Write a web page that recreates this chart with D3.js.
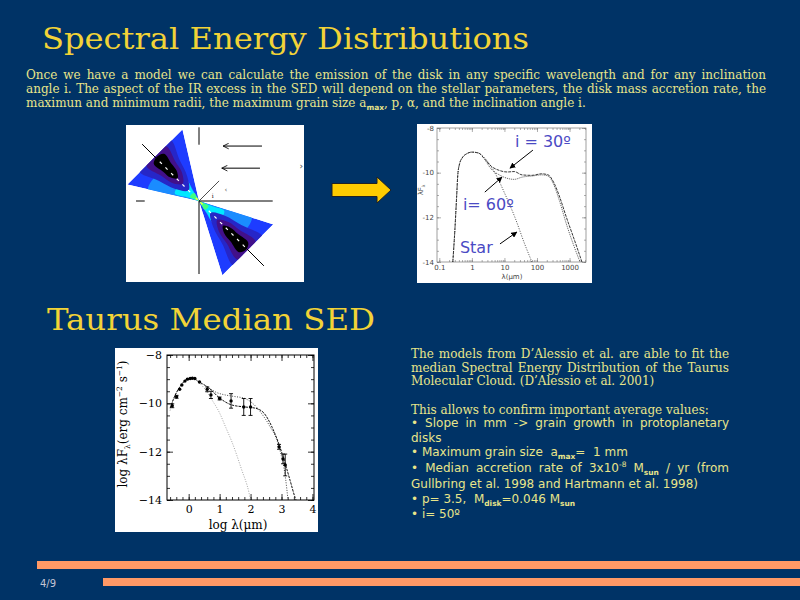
<!DOCTYPE html>
<html>
<head>
<meta charset="utf-8">
<script src="https://cdn.jsdelivr.net/npm/d3@7"></script>
<style>
  html, body { margin: 0; padding: 0; background: #003366; }
  svg { display: block; }
</style>
</head>
<body>
<svg id="slide" width="800" height="600"></svg>
<script>
// ---------------- data ----------------

// Model SED (top right): [wavelength in micron, log nuF_nu]
const sedStar = [[0.26,-14],[0.3,-12.6],[0.34,-11.1],[0.37,-10.1],[0.42,-9.6],[0.5,-9.35],[0.7,-9.15],
  [1.0,-9.08],[1.6,-9.12],[2.5,-9.35],[4,-9.75],[6,-10.2],[10,-10.9],[21,-12.0],[42,-13.2],[70,-14]];
const sedI30 = [[0.26,-14],[0.3,-12.6],[0.34,-11.1],[0.37,-10.1],[0.42,-9.6],[0.5,-9.35],[0.7,-9.15],
  [1.0,-9.08],[1.6,-9.12],[2.5,-9.4],[4,-9.72],[7,-9.9],[12,-9.97],[20,-9.95],[35,-10.1],[70,-10.12],
  [140,-10.05],[220,-10.1],[330,-10.45],[500,-11.1],[800,-12.0],[1400,-13.0],[2400,-14]];
const sedI60 = [[2.5,-9.4],[4,-9.85],[7,-10.1],[12,-10.25],[20,-10.3],[35,-10.2],[70,-10.15],[140,-10.1],
  [220,-10.15],[330,-10.55],[500,-11.3],[800,-12.3],[1300,-13.2],[2100,-14]];
const sedXTicks = [0.1, 1, 10, 100, 1000];
const sedYTicks = [-14, -12, -10, -8];
// annotation labels, their anchor and arrow ends, in data units
const sedLabels = ["i = 30º", "i= 60º", "Star"];
const sedLabelAt = [[21,-8.85], [0.53,-11.67], [0.43,-13.6]];
const sedArrowFrom = [[75,-8.99], [2.5,-10.87], [7.3,-13.19]];
const sedArrowTo = [[14.8,-9.8], [8.4,-10.2], [24,-12.66]];

// Taurus median SED: log lambda (micron), log lambda F_lambda
const taurusStar = [[-0.6,-10.3],[-0.45,-9.7],[-0.3,-9.35],[-0.15,-9.1],[0.0,-8.97],[0.15,-8.97],[0.3,-9.1],
  [0.52,-9.4],[0.75,-9.85],[1.0,-10.4],[1.2,-11.0],[1.4,-11.6],[1.7,-12.7],[1.95,-13.7],[2.0,-14]];
const taurusModel = [[-0.6,-10.2],[-0.45,-9.7],[-0.3,-9.35],[-0.15,-9.1],[0.0,-8.97],[0.15,-8.97],[0.32,-9.1],
  [0.65,-9.36],[1.0,-9.78],[1.4,-10.07],[1.82,-10.15],[2.15,-10.2],[2.43,-10.4],[2.7,-11.0],[2.92,-11.7],
  [3.12,-12.5],[3.28,-13.2],[3.44,-13.9],[3.47,-14]];
const taurusModel2 = [[0.65,-9.36],[0.9,-9.55],[1.17,-9.65],[1.5,-9.72],[1.82,-9.8],[2.15,-10.1],[2.4,-10.5],
  [2.6,-10.9],[2.93,-11.85],[3.13,-13.1],[3.21,-14]];
const taurusLogLam = [-0.53,-0.39,-0.29,-0.22,-0.12,-0.04,0.05,0.12,0.2,0.35,0.6,0.72,1.0,1.37,1.78,2.0,2.92,3.05,3.12];
const taurusLogFlux = [-10.1,-9.73,-9.42,-9.24,-9.08,-9.0,-8.97,-8.96,-8.97,-9.12,-9.42,-9.65,-9.8,-9.9,-10.15,-10.15,-11.8,-12.3,-12.55];
const taurusErr = [0.08,0.06,0,0,0,0,0,0,0,0,0.1,0.15,0.06,0.3,0.35,0.35,0.1,0.2,0.45];
const taurusXTicks = [0, 1, 2, 3, 4];
const taurusYTicks = [-14, -12, -10, -8];

// Disk model picture: two wedges (angle of midplane, length, half opening angle)
const diskWedges = [{dir: 135, len: 0.93, half: 32, reach: 1.2}, {dir: -45, len: 1.03, half: 27.5, reach: 1.37}];
// contour bands: along-midplane range (fraction of length), centre and half width across the wedge
const diskBandU0 = [0, -0.05, -0.05, -0.03, -0.02, 0.24, 0.38, 0.5];
const diskBandU1 = [1.1, 0.78, 0.4, 0.16, 0.07, 1.12, 1.06, 0.98];
const diskBandVc = [0, 0.28, 0.22, 0.12, 0.05, -0.02, -0.04, -0.04];
const diskBandW = [1.2, 0.75, 0.62, 0.55, 0.45, 0.55, 0.36, 0.2];
const diskBandColor = ["#1e3cff", "#1a8cff", "#00e8ff", "#40ff80", "#f0ff40", "#2626c8", "#42108a", "#000000"];

// ---------------- text ----------------
const titleColor = "#f2d337";
const bodyColor = "#e8e58a";
const introLines = [
  "Once we have a model we can calculate the emission of the disk in any specific wavelength and for any inclination",
  "angle i. The aspect of the IR excess in the SED will depend on the stellar parameters, the disk mass accretion rate, the",
  "maximun and minimum radii, the maximum grain size a_{max}, p, α, and the inclination angle i."
];
const sideLines = [
  {t: "The models from D’Alessio et al. are able to fit the", y: 358, j: true},
  {t: "median Spectral Energy Distribution of the Taurus", y: 372, j: true},
  {t: "Molecular Cloud. (D’Alessio et al. 2001)", y: 385},
  {t: "This allows to confirm important average values:", y: 414},
  {t: "• Slope in mm -> grain growth in protoplanetary", y: 427, j: true, sans: true},
  {t: "disks", y: 442, sans: true},
  {t: "• Maximum grain size  a_{max}=  1 mm", y: 456, sans: true},
  {t: "• Median accretion rate of  3x10^{-8} M_{sun} / yr (from", y: 472, j: true, sans: true},
  {t: "Gullbring et al. 1998 and Hartmann et al. 1998)", y: 488, sans: true},
  {t: "• p= 3.5,  M_{disk}=0.046 M_{sun}", y: 503, sans: true},
  {t: "• i= 50º", y: 518, sans: true}
];

const serif = "'DejaVu Serif', serif";
const sans = "'DejaVu Sans', sans-serif";

const svg = d3.select("#slide");
svg.append("rect").attr("width", 800).attr("height", 600).attr("fill", "#003366");

const defs = svg.append("defs");
defs.append("marker").attr("id", "head").attr("viewBox", "0 0 10 10")
  .attr("refX", 9).attr("refY", 5).attr("markerWidth", 6).attr("markerHeight", 6).attr("orient", "auto")
  .append("path").attr("d", "M0,0L10,5L0,10z").attr("fill", "#000");
defs.append("marker").attr("id", "open").attr("viewBox", "0 0 10 10")
  .attr("refX", 9).attr("refY", 5).attr("markerWidth", 7).attr("markerHeight", 7).attr("orient", "auto")
  .append("path").attr("d", "M1,1L9,5L1,9").attr("fill", "none").attr("stroke", "#000").attr("stroke-width", 1.2);

// ---------------- rich text helpers ----------------
function splitRuns(str) {
  const out = [], re = /([_^])\{([^}]*)\}/g;
  let last = 0, m;
  while ((m = re.exec(str))) {
    if (m.index > last) out.push({t: str.slice(last, m.index)});
    out.push({t: m[2], k: m[1] === "_" ? "sub" : "sup"});
    last = re.lastIndex;
  }
  if (last < str.length) out.push({t: str.slice(last)});
  return out;
}

function fillRuns(text, str, size, plainSub) {
  let shifted = null;
  splitRuns(str).forEach(r => {
    const ts = text.append("tspan").text(r.t);
    if (r.k) {
      ts.attr("font-size", size * 0.62).attr("dy", r.k === "sub" ? size * 0.25 : -size * 0.38);
      if (r.k === "sub" && !plainSub) ts.attr("font-family", sans).attr("font-weight", "bold");
      shifted = r.k;
    } else if (shifted) {
      ts.attr("dy", shifted === "sub" ? -size * 0.25 : size * 0.38);
      shifted = null;
    }
  });
}

function textLine(str, x0, x1, y, o) {
  const g = svg.append("g").attr("font-family", o.family).attr("font-size", o.size).attr("fill", o.fill);
  if (!o.justify) {
    const t = g.append("text").attr("x", x0).attr("y", y).attr("xml:space", "preserve");
    fillRuns(t, str, o.size);
    return;
  }
  const words = str.split(/\s+/).filter(w => w.length);
  const nodes = words.map(w => {
    const t = g.append("text").attr("y", y);
    fillRuns(t, w, o.size);
    return t;
  });
  const widths = nodes.map(n => n.node().getComputedTextLength());
  const gap = (x1 - x0 - d3.sum(widths)) / (words.length - 1);
  let x = x0;
  nodes.forEach((n, i) => { n.attr("x", x); x += widths[i] + gap; });
}

// ---------------- titles and text ----------------
svg.append("text").attr("x", 42).attr("y", 49).attr("font-family", serif).attr("font-size", 30)
  .attr("fill", titleColor).attr("textLength", 487).attr("lengthAdjust", "spacingAndGlyphs")
  .text("Spectral Energy Distributions");
svg.append("text").attr("x", 47).attr("y", 330).attr("font-family", serif).attr("font-size", 30)
  .attr("fill", titleColor).attr("textLength", 328).attr("lengthAdjust", "spacingAndGlyphs")
  .text("Taurus Median SED");

introLines.forEach((l, i) => {
  textLine(l, 26, 766, 79 + i * 14.2, {family: serif, size: 12, fill: bodyColor, justify: i < 2});
});
sideLines.forEach(l => {
  textLine(l.t, 411, 729, l.y, {family: l.sans ? sans : serif, size: 12, fill: bodyColor, justify: !!l.j});
});

// footer
svg.append("rect").attr("x", 37).attr("y", 561).attr("width", 763).attr("height", 8).attr("fill", "#ff9966");
svg.append("rect").attr("x", 103).attr("y", 578).attr("width", 697).attr("height", 8).attr("fill", "#ff9966");
svg.append("text").attr("x", 40).attr("y", 587).attr("font-family", sans).attr("font-size", 10)
  .attr("fill", "#c4c4d4").text("4/9");

// yellow arrow between the panels
svg.append("path")
  .attr("d", "M332,183.5L377,183.5L377,177L391,190L377,203L377,196.5L332,196.5Z")
  .attr("fill", "#ffcc00").attr("stroke", "#222").attr("stroke-width", 1);

// ---------------- axes helper ----------------
function frameTicks(g, x, y, o) {
  const [xa, xb] = x.range(), [yb, ya] = y.range();
  const put = (axis, tr, vals, len, fmt, pad) => {
    const a = g.append("g").attr("transform", tr)
      .call(axis.tickValues(vals).tickSize(-len).tickPadding(pad || 3).tickFormat(fmt || (() => "")));
    a.select(".domain").remove();
    a.selectAll("line").attr("stroke", o.color).attr("stroke-width", o.width);
    a.attr("font-family", o.family).attr("font-size", o.fontSize);
    a.selectAll("text").attr("fill", o.labelColor);
    return a;
  };
  put(d3.axisBottom(x), `translate(0,${yb})`, o.xMinor, o.minor);
  put(d3.axisTop(x), `translate(0,${ya})`, o.xMinor, o.minor);
  put(d3.axisLeft(y), `translate(${xa},0)`, o.yMinor, o.minor);
  put(d3.axisRight(y), `translate(${xb},0)`, o.yMinor, o.minor);
  put(d3.axisBottom(x), `translate(0,${yb})`, o.xMajor, o.major, o.xFmt, o.pad);
  put(d3.axisTop(x), `translate(0,${ya})`, o.xMajor, o.major);
  put(d3.axisLeft(y), `translate(${xa},0)`, o.yMajor, o.major, o.yFmt, o.pad);
  put(d3.axisRight(y), `translate(${xb},0)`, o.yMajor, o.major);
  g.append("rect").attr("x", xa).attr("y", ya).attr("width", xb - xa).attr("height", yb - ya)
    .attr("fill", "none").attr("stroke", o.color).attr("stroke-width", o.frame);
}

// ---------------- disk model picture ----------------
(function drawDisk() {
  const g = svg.append("g");
  g.append("rect").attr("x", 126).attr("y", 125).attr("width", 178).attr("height", 157).attr("fill", "#fff");
  const dx = d3.scaleLinear().domain([0, 1]).range([199, 266]);
  const dy = d3.scaleLinear().domain([0, 1]).range([201, 134]);
  const rad = Math.PI / 180;
  const pt = (w, u, v) => {
    const a = w.dir * rad, t = Math.tan(w.half * rad), z = v * u * t;
    return [dx(u * Math.cos(a) - z * Math.sin(a)), dy(u * Math.sin(a) + z * Math.cos(a))];
  };
  const line = d3.line();
  const blob = d3.line().curve(d3.curveCatmullRomClosed.alpha(0.5));
  diskWedges.forEach((w, k) => {
    const clipId = "wedge" + k;
    defs.append("clipPath").attr("id", clipId).append("path")
      .attr("d", line([pt(w, 0, 0), pt(w, w.len, -1), pt(w, w.len, 1)]) + "Z");
    const wg = g.append("g").attr("clip-path", `url(#${clipId})`);
    diskBandColor.forEach((c, i) => {
      const a = Math.max(0, diskBandU0[i]) * w.len, b = diskBandU1[i] * w.len, m = (a + b) / 2;
      const hi = diskBandVc[i] + diskBandW[i], lo = diskBandVc[i] - diskBandW[i];
      // rounded contour: ends pulled in, middle at full width
      const poly = [pt(w, a, diskBandVc[i]), pt(w, a + (b - a) * 0.2, lo), pt(w, m, lo), pt(w, b - (b - a) * 0.1, lo),
        pt(w, b, diskBandVc[i]), pt(w, b - (b - a) * 0.1, hi), pt(w, m, hi), pt(w, a + (b - a) * 0.2, hi)];
      const d = i === 0 ? line([pt(w, 0, 0), pt(w, w.len, -1), pt(w, w.len, 1)]) + "Z" : blob(poly);
      wg.append("path").attr("d", d).attr("fill", c);
    });
    g.append("path").attr("d", line([pt(w, 0.2 * w.len, 0), pt(w, 0.95 * w.len, 0)]))
      .attr("stroke", "#fff").attr("stroke-width", 1.2).attr("stroke-dasharray", "3,5");
    g.append("path").attr("d", line([pt(w, 0.97 * w.len, 0), pt(w, w.reach, 0)]))
      .attr("stroke", "#000").attr("stroke-width", 1);
  });
  // axes and incoming light arrows of the sketch (model units)
  const segs = [[0, 0.84, 0, 1.1], [0, 0, 0, -1.09], [0, 0, 1.1, 0], [-0.94, 0, -0.81, 0]];
  segs.forEach(s => g.append("line").attr("x1", dx(s[0])).attr("y1", dy(s[1])).attr("x2", dx(s[2])).attr("y2", dy(s[3]))
    .attr("stroke", "#000").attr("stroke-width", 1));
  [[0.94, 0.82, 0.36, 0.82], [0.91, 0.49, 0.34, 0.49]].forEach(s =>
    g.append("line").attr("x1", dx(s[0])).attr("y1", dy(s[1])).attr("x2", dx(s[2])).attr("y2", dy(s[3]))
      .attr("stroke", "#000").attr("stroke-width", 1).attr("marker-end", "url(#open)"));
  g.append("line").attr("x1", dx(0)).attr("y1", dy(0)).attr("x2", dx(0.3)).attr("y2", dy(0.3))
    .attr("stroke", "#000").attr("stroke-width", 0.7);
  g.append("text").attr("x", dx(0.19)).attr("y", dy(0.04)).attr("font-family", serif).attr("font-size", 6).text("i");
  g.append("text").attr("x", dx(0.38)).attr("y", dy(0.13)).attr("font-family", sans).attr("font-size", 7).attr("fill", "#555").text("‹");
  g.append("text").attr("x", dx(1.5)).attr("y", dy(0.48)).attr("font-family", sans).attr("font-size", 9).attr("fill", "#444").text("›");
})();

// ---------------- model SED (top right) ----------------
(function drawModelSED() {
  const g = svg.append("g");
  g.append("rect").attr("x", 417).attr("y", 124).attr("width", 175).attr("height", 159).attr("fill", "#fff");
  const x = d3.scaleLog().domain([0.085, 3200]).range([437, 586]);
  const y = d3.scaleLinear().domain([-14, -8]).range([262, 128]);
  const xMinor = [];
  [0.1, 1, 10, 100, 1000].forEach(d => d3.range(1, 10).forEach(k => { const v = d * k; if (v > 0.085 && v < 3200) xMinor.push(v); }));
  frameTicks(g, x, y, {
    xMajor: sedXTicks, xMinor, yMajor: sedYTicks, yMinor: d3.range(-14, -7.9, 0.5),
    major: 4, minor: 2, color: "#777", width: 0.6, frame: 0.7, pad: 3,
    family: sans, fontSize: 7, labelColor: "#444",
    xFmt: d => String(d), yFmt: d => String(d)
  });
  const line = d3.line().x(d => x(d[0])).y(d => y(d[1])).curve(d3.curveMonotoneX);
  g.append("path").attr("d", line(sedStar)).attr("fill", "none").attr("stroke", "#333")
    .attr("stroke-width", 0.9).attr("stroke-dasharray", "1,1.5");
  g.append("path").attr("d", line(sedI30)).attr("fill", "none").attr("stroke", "#222")
    .attr("stroke-width", 0.9).attr("stroke-dasharray", "3,1");
  g.append("path").attr("d", line(sedI60)).attr("fill", "none").attr("stroke", "#444")
    .attr("stroke-width", 0.9).attr("stroke-dasharray", "1,1");
  sedLabels.forEach((l, i) => {
    g.append("line").attr("x1", x(sedArrowFrom[i][0])).attr("y1", y(sedArrowFrom[i][1]))
      .attr("x2", x(sedArrowTo[i][0])).attr("y2", y(sedArrowTo[i][1]))
      .attr("stroke", "#000").attr("stroke-width", 1).attr("marker-end", "url(#head)");
    g.append("text").attr("x", x(sedLabelAt[i][0])).attr("y", y(sedLabelAt[i][1]))
      .attr("font-family", sans).attr("font-size", 16).attr("fill", "#4a4ac4").text(l);
  });
  const yl = g.append("text").attr("transform", "translate(423,190) rotate(-90)").attr("text-anchor", "middle")
    .attr("font-family", sans).attr("font-size", 7).attr("fill", "#444");
  fillRuns(yl, "λF_{λ}", 7, true);
  g.append("text").attr("x", 512).attr("y", 279).attr("text-anchor", "middle").attr("font-family", sans)
    .attr("font-size", 7).attr("fill", "#444").text("λ(μm)");
})();

// ---------------- Taurus median SED ----------------
(function drawTaurus() {
  const g = svg.append("g");
  g.append("rect").attr("x", 115).attr("y", 348).attr("width", 203).attr("height", 184).attr("fill", "#fff");
  const x = d3.scaleLinear().domain([-0.7, 4.05]).range([167, 314]);
  const y = d3.scaleLinear().domain([-14, -8]).range([500, 355]);
  frameTicks(g, x, y, {
    xMajor: taurusXTicks, xMinor: d3.range(-0.6, 4.01, 0.2), yMajor: taurusYTicks, yMinor: d3.range(-14, -7.9, 0.5),
    major: 6, minor: 3, color: "#000", width: 0.8, frame: 1, pad: 5,
    family: serif, fontSize: 11, labelColor: "#000",
    xFmt: d => String(d), yFmt: d => "−" + Math.abs(d)
  });
  const line = d3.line().x(d => x(d[0])).y(d => y(d[1])).curve(d3.curveMonotoneX);
  g.append("path").attr("d", line(taurusStar)).attr("fill", "none").attr("stroke", "#999")
    .attr("stroke-width", 0.9).attr("stroke-dasharray", "1,1.5");
  g.append("path").attr("d", line(taurusModel2)).attr("fill", "none").attr("stroke", "#333")
    .attr("stroke-width", 0.9).attr("stroke-dasharray", "1,1.5");
  g.append("path").attr("d", line(taurusModel)).attr("fill", "none").attr("stroke", "#111")
    .attr("stroke-width", 1).attr("stroke-dasharray", "2.5,1");
  const pts = taurusLogLam.map((l, i) => ({l, f: taurusLogFlux[i], e: taurusErr[i]}));
  g.selectAll(".err").data(pts.filter(d => d.e > 0)).join("path").attr("class", "err")
    .attr("d", d => {
      const px = x(d.l), top = y(d.f + d.e), bot = y(d.f - d.e);
      return `M${px},${top}V${bot}M${px - 2},${top}H${px + 2}M${px - 2},${bot}H${px + 2}`;
    })
    .attr("stroke", "#000").attr("stroke-width", 0.9).attr("fill", "none");
  g.selectAll(".pt").data(pts).join("circle").attr("class", "pt")
    .attr("cx", d => x(d.l)).attr("cy", d => y(d.f)).attr("r", 1.7).attr("fill", "#000");
  const yl = g.append("text").attr("transform", "translate(127,424) rotate(-90)").attr("text-anchor", "middle")
    .attr("font-family", serif).attr("font-size", 12).attr("fill", "#000");
  fillRuns(yl, "log λF_{λ}(erg cm^{−2} s^{−1})", 12, true);
  g.append("text").attr("x", 238).attr("y", 529).attr("text-anchor", "middle").attr("font-family", serif)
    .attr("font-size", 12).attr("fill", "#000").text("log λ(μm)");
})();
</script>
</body>
</html>
